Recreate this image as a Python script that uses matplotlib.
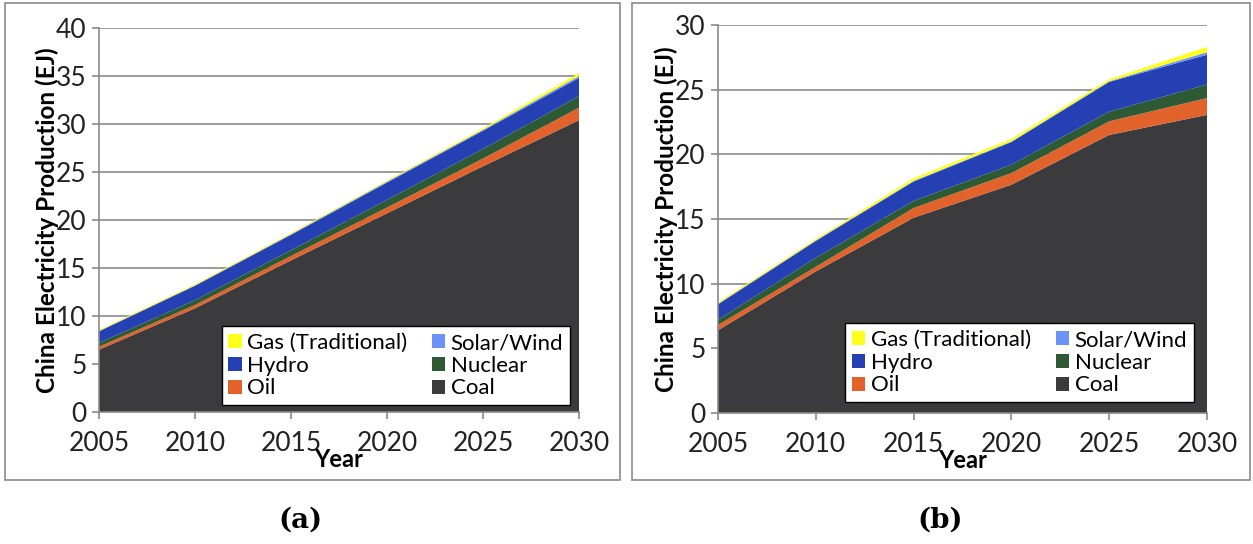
import matplotlib
matplotlib.use("Agg")
import matplotlib.pyplot as plt
from matplotlib.patches import Rectangle, Patch

plt.rcParams['font.family'] = ['Lato', 'DejaVu Sans']

years = [2005, 2010, 2015, 2020, 2025, 2030]

# scenario (a)
coal_a = [6.5, 10.8, 15.8, 20.7, 25.6, 30.4]
oil_a = [0.3, 0.35, 0.45, 0.6, 0.8, 1.3]
nuclear_a = [0.4, 0.5, 0.6, 0.8, 1.0, 1.2]
hydro_a = [1.2, 1.5, 1.6, 1.8, 1.9, 1.9]
solar_a = [0.05, 0.05, 0.08, 0.1, 0.1, 0.2]
gas_a = [0.1, 0.1, 0.1, 0.1, 0.15, 0.3]

# scenario (b)
coal_b = [6.4, 10.95, 15.1, 17.65, 21.5, 23.05]
oil_b = [0.4, 0.35, 0.75, 0.9, 1.05, 1.3]
nuclear_b = [0.4, 0.7, 0.55, 0.65, 0.75, 1.05]
hydro_b = [1.2, 1.3, 1.5, 1.75, 2.3, 2.3]
solar_b = [0.05, 0.05, 0.05, 0.05, 0.05, 0.2]
gas_b = [0.1, 0.1, 0.2, 0.2, 0.15, 0.4]

names = ["Coal", "Oil", "Nuclear", "Hydro", "Solar/Wind", "Gas (Traditional)"]
colors = ["#3b3b3d", "#e2622b", "#2d5a34", "#2440b2", "#6b93f7", "#ffff1a"]

fig = plt.figure(figsize=(12.53, 5.44), dpi=100)

# grey frames round each panel
fig.patches.append(Rectangle((5 / 1253, 1 - 480 / 544), 615 / 1253, 477 / 544,
                             transform=fig.transFigure, fill=False, edgecolor="#8a8a8a", lw=1.2))
fig.patches.append(Rectangle((632 / 1253, 1 - 480 / 544), 618 / 1253, 477 / 544,
                             transform=fig.transFigure, fill=False, edgecolor="#8a8a8a", lw=1.2))


def panel(rect, series, ymax, leg_anchor, tag, tag_x):
    ax = fig.add_axes(rect)
    ax.stackplot(years, *series, colors=colors, linewidth=0)
    ax.set_xlim(2005, 2030)
    ax.set_ylim(0, ymax)
    ax.set_xticks(years)
    ax.set_yticks(range(0, ymax + 1, 5))
    ax.tick_params(axis="both", labelsize=19, colors="#8a8a8a", labelcolor="#222222",
                   length=5, width=1.2, pad=4)
    ax.tick_params(axis="x", pad=9)
    ax.grid(axis="y", color="#8a8a8a", lw=1.2)
    ax.set_axisbelow(True)
    for s in ["top", "right"]:
        ax.spines[s].set_visible(False)
    for s in ["left", "bottom"]:
        ax.spines[s].set_color("#8a8a8a")
        ax.spines[s].set_linewidth(1.2)
    ax.set_xlabel("Year", fontsize=17, fontweight="bold", labelpad=-6)
    ax.set_ylabel("China Electricity Production (EJ)", fontsize=17.5, fontweight="bold",
                  labelpad=-2)
    order = [5, 3, 1, 4, 2, 0]
    handles = [Patch(facecolor=colors[i], label=names[i]) for i in order]
    leg = ax.legend(handles=handles, ncol=2, bbox_to_anchor=leg_anchor,
                    loc="lower right", fontsize=16, frameon=True, fancybox=False,
                    facecolor="white", framealpha=1, edgecolor="black",
                    handlelength=0.6, handleheight=0.6, handletextpad=0.25,
                    labelspacing=0.12, columnspacing=1.1, borderaxespad=0, borderpad=0.3)
    leg.get_frame().set_linewidth(1.0)
    fig.text(tag_x, 1 - 520 / 544, tag, ha="center", va="center", fontsize=20,
             fontweight="bold", family="DejaVu Serif")
    return ax


panel([99 / 1253, 1 - 412 / 544, 480 / 1253, 384 / 544],
      [coal_a, oil_a, nuclear_a, hydro_a, solar_a, gas_a], 40,
      (0.981, 0.018), "(a)", 300 / 1253)
panel([718 / 1253, 1 - 413 / 544, 489 / 1253, 388 / 544],
      [coal_b, oil_b, nuclear_b, hydro_b, solar_b, gas_b], 30,
      (0.973, 0.028), "(b)", 940 / 1253)

fig.savefig("out.png", dpi=100)
